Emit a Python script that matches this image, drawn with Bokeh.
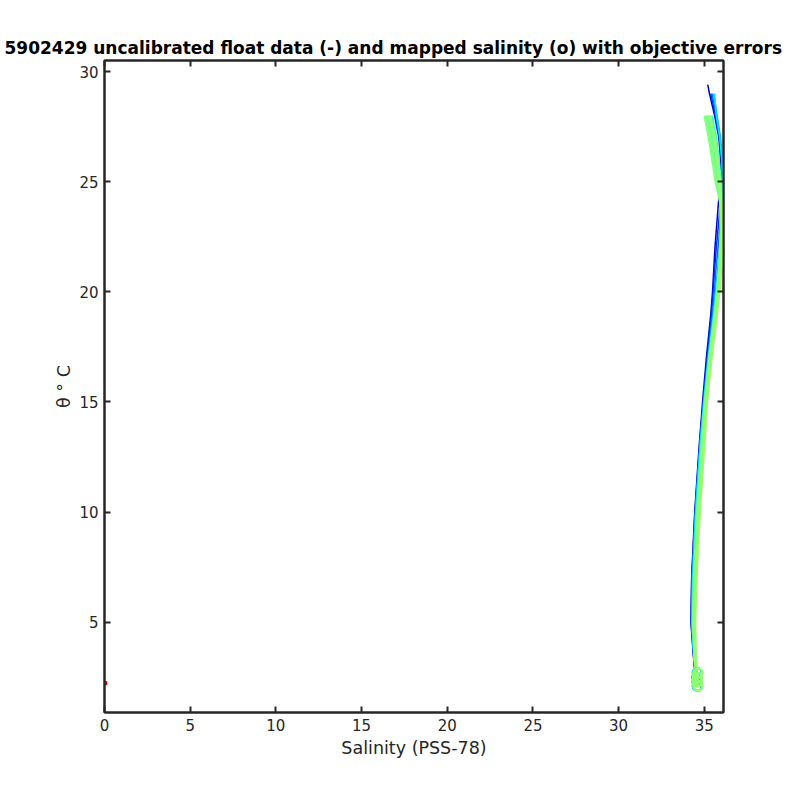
from bokeh.plotting import figure
from bokeh.models import Range1d, LinearAxis, FixedTicker
from bokeh.embed import file_html
from bokeh.resources import INLINE

nan = float("nan")

# potential temperature levels (deg C)
theta_levels = [2.1, 2.5, 2.9, 3.5, 5, 7, 10, 13, 15, 17, 19, 20, 21, 22, 23, 24, 25, 26, 27, 28, 29, 29.4]

# float salinity profiles (PSS-78), early (blue) to later (green) profiles
sal_p1 = [34.56, 34.50, 34.43, 34.36, 34.22, 34.26, 34.44, 34.70, 34.90, 35.12, 35.38, 35.48, 35.55, 35.62, 35.72, 35.82, 35.92, 35.95, 35.85, 35.60, 35.30, 35.20]
sal_p2 = [34.57, 34.51, 34.44, 34.37, 34.23, 34.27, 34.46, 34.72, 34.93, 35.16, 35.42, 35.52, 35.60, 35.70, 35.82, 35.94, 36.02, 36.00, 35.88, 35.65, 35.38, nan]
sal_p3 = [34.57, 34.52, 34.45, 34.38, 34.25, 34.29, 34.47, 34.73, 34.95, 35.20, 35.48, 35.58, 35.68, 35.80, 35.92, 36.02, 36.06, 36.03, 35.92, 35.70, 35.45, nan]
sal_p4 = [34.58, 34.53, 34.46, 34.39, 34.27, 34.31, 34.49, 34.75, 34.97, 35.22, 35.52, 35.65, 35.78, 35.90, 36.00, 36.06, 36.08, 36.05, 35.95, 35.75, 35.55, nan]
sal_p5 = [34.58, 34.53, 34.47, 34.40, 34.28, 34.33, 34.50, 34.76, 34.98, 35.25, 35.55, 35.70, 35.82, 35.94, 36.03, 36.08, 36.08, 36.02, 35.90, 35.70, 35.60, nan]
sal_p6 = [34.59, 34.54, 34.48, 34.42, 34.32, 34.38, 34.56, 34.82, 35.02, 35.28, 35.60, 35.74, 35.86, 35.96, 36.02, 36.04, 35.98, 35.85, 35.70, 35.45, nan, nan]
sal_g1 = [34.60, 34.55, 34.50, 34.44, 34.36, 34.42, 34.60, 34.86, 35.05, 35.30, 35.62, 35.76, 35.88, 35.95, 35.98, 35.95, 35.85, 35.65, 35.45, 35.20, nan, nan]
sal_g2 = [34.62, 34.57, 34.52, 34.47, 34.40, 34.48, 34.66, 34.92, 35.10, 35.36, 35.68, 35.82, 35.94, 36.00, 36.02, 35.98, 35.70, 35.50, 35.30, 35.05, nan, nan]
sal_g3 = [34.61, 34.56, 34.51, 34.46, 34.45, 34.52, 34.72, 34.98, 35.14, 35.40, 35.72, 35.86, 35.96, 36.02, 36.04, 36.00, 35.90, 35.78, 35.60, 35.30, nan, nan]

profiles = [sal_p1, sal_p2, sal_p3, sal_p4, sal_p5, sal_p6, sal_g1, sal_g2, sal_g3]
profile_colors = ["#0000c8", "#0028ff", "#0070ff", "#00b4ff", "#00e8ff", "#30ffcf", "#68ff98", "#80ff80", "#94ff6c"]
profile_widths = [1.5, 1.5, 1.5, 1.5, 1.5, 2, 3, 3.5, 3]

# mapped salinity at the chosen deep levels
map_theta = [2.1, 2.3, 2.5, 2.7]
map_p3 = [34.58, 34.57, 34.56, 34.58]
map_p5 = [34.60, 34.59, 34.57, 34.60]
map_g1 = [34.62, 34.60, 34.59, 34.62]
map_g2 = [34.64, 34.62, 34.60, 34.63]
map_g3 = [34.63, 34.61, 34.60, 34.64]
mapped = [(map_p3, "#0070ff"), (map_p5, "#00e8ff"), (map_g1, "#68ff98"), (map_g2, "#80ff80"), (map_g3, "#94ff6c")]

# last profile: single (bad) value
red_sal = [0.05]
red_theta = [2.23]

x_ticks = [0, 5, 10, 15, 20, 25, 30, 35]
y_ticks = [5, 10, 15, 20, 25, 30]

INK = "#262626"
FONT = "DejaVu Sans"

p = figure(width=784, height=784, output_backend="svg", toolbar_location=None,
           x_range=Range1d(0, 36.12), y_range=Range1d(0.9, 30.5),
           x_axis_location=None, y_axis_location=None,
           min_border_left=104, min_border_right=61, min_border_top=60, min_border_bottom=72,
           background_fill_color="white", border_fill_color="white")

p.title.text = "5902429 uncalibrated float data (-) and mapped salinity (o) with objective errors"
p.title.align = "left"
p.title.offset = -100
p.title.standoff = 6
p.title.text_font = FONT
p.title.text_font_size = "17px"
p.title.text_font_style = "bold"
p.title.text_color = "black"

p.xgrid.visible = False
p.ygrid.visible = False
p.outline_line_color = INK
p.outline_line_width = 2

bottom = LinearAxis(ticker=FixedTicker(ticks=x_ticks))
left = LinearAxis(ticker=FixedTicker(ticks=y_ticks))
top = LinearAxis(ticker=FixedTicker(ticks=x_ticks), major_label_overrides={t: "" for t in x_ticks})
right = LinearAxis(ticker=FixedTicker(ticks=y_ticks), major_label_overrides={t: "" for t in y_ticks})
p.add_layout(bottom, "below")
p.add_layout(left, "left")
p.add_layout(top, "above")
p.add_layout(right, "right")

for ax in [bottom, left, top, right]:
    ax.axis_line_color = INK
    ax.axis_line_width = 2
    ax.major_tick_line_color = INK
    ax.major_tick_line_width = 2
    ax.major_tick_in = 6
    ax.major_tick_out = 0
    ax.minor_tick_line_color = None
    ax.major_label_text_font = FONT
    ax.major_label_text_font_size = "15px"
    ax.major_label_text_color = INK
    ax.major_label_standoff = 6

for ax in [top, right]:
    ax.major_label_text_font_size = "0px"
    ax.major_label_standoff = 0

bottom.axis_label = "Salinity (PSS-78)"
left.axis_label = "θ ° C"
for ax in [bottom, left]:
    ax.axis_label_text_font = FONT
    ax.axis_label_text_font_size = "17.5px"
    ax.axis_label_text_font_style = "normal"
    ax.axis_label_text_color = INK
bottom.axis_label_standoff = 4
left.axis_label_standoff = 2

for sal, col, w in zip(profiles, profile_colors, profile_widths):
    p.line(sal, theta_levels, line_color=col, line_width=w)

for msal, col in mapped:
    p.scatter(msal, map_theta, marker="circle", size=9, fill_color=None, line_color=col, line_width=2)

p.scatter(red_sal, red_theta, marker="square", size=3, fill_color="#c00000", line_color="#c00000")

open("out.html", "w").write(file_html(p, INLINE))
